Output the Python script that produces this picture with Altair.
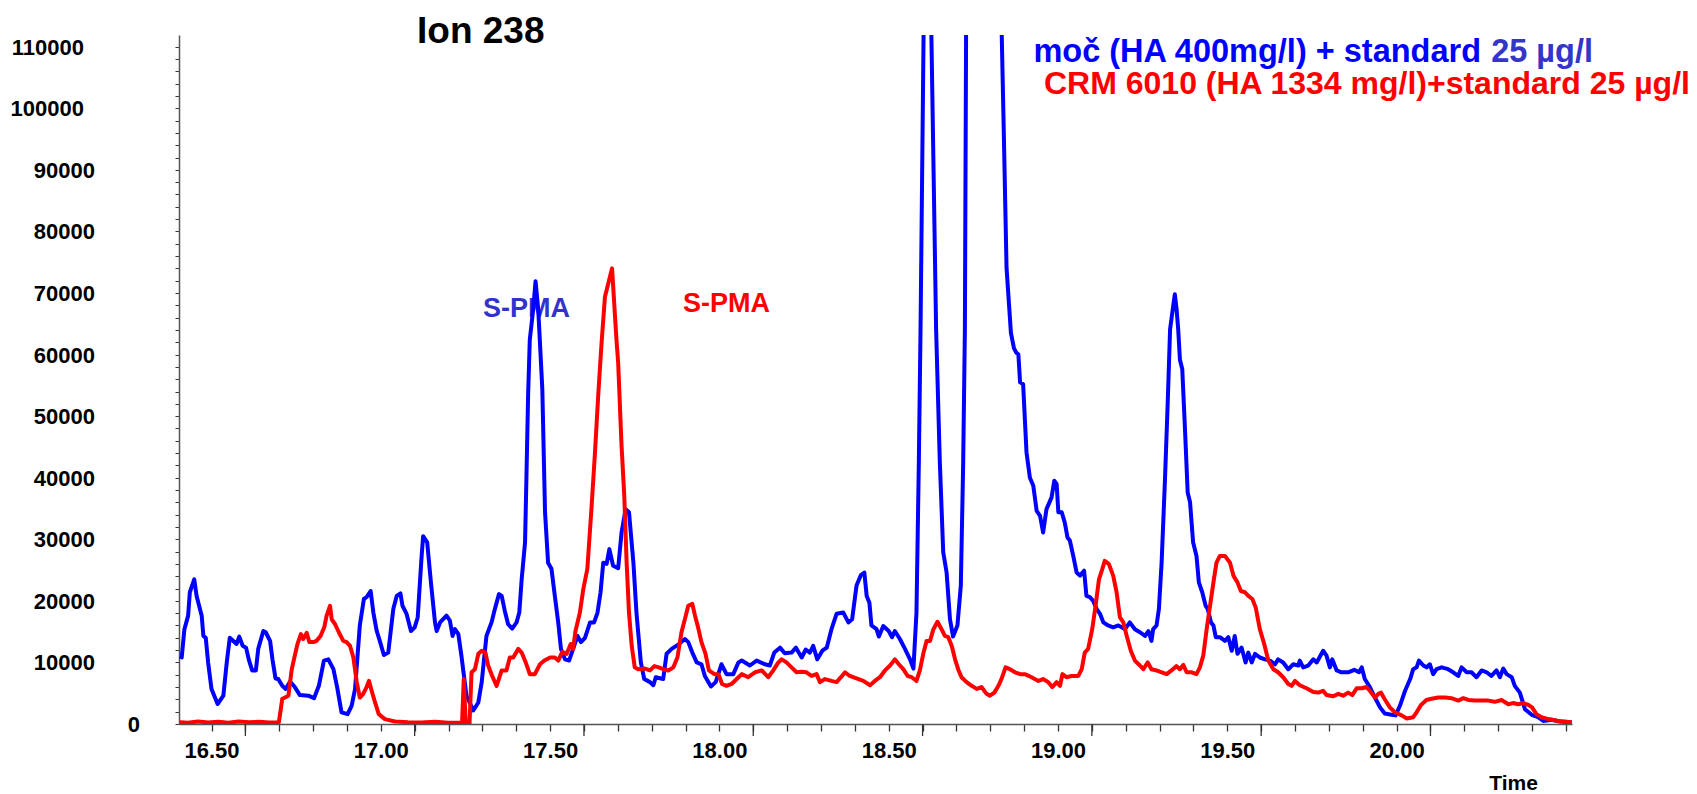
import altair as alt
import pandas as pd

# ---------------- data ----------------
blue_time = [
    16.407, 16.412, 16.420, 16.431, 16.436, 16.449, 16.456, 16.471, 16.476, 16.483,
    16.490, 16.500, 16.518, 16.535, 16.545, 16.554, 16.574, 16.582, 16.592, 16.602,
    16.610, 16.620, 16.631, 16.638, 16.653, 16.660, 16.673, 16.680, 16.689, 16.697,
    16.709, 16.719, 16.732, 16.746, 16.761, 16.786, 16.803, 16.817, 16.832, 16.845,
    16.860, 16.871, 16.884, 16.902, 16.914, 16.924, 16.938, 16.950, 16.958, 16.970,
    16.978, 16.988, 16.997, 17.009, 17.022, 17.037, 17.047, 17.058, 17.064, 17.076,
    17.089, 17.100, 17.109, 17.120, 17.125, 17.137, 17.148, 17.160, 17.165, 17.175,
    17.194, 17.204, 17.212, 17.219, 17.229, 17.238, 17.253, 17.273, 17.288, 17.298,
    17.312, 17.327, 17.337, 17.349, 17.357, 17.366, 17.376, 17.388, 17.401, 17.409,
    17.416, 17.426, 17.430, 17.435, 17.440, 17.450, 17.457, 17.465, 17.477, 17.485,
    17.494, 17.504, 17.514, 17.524, 17.532, 17.544, 17.556, 17.568, 17.581, 17.591,
    17.603, 17.618, 17.630, 17.640, 17.649, 17.657, 17.667, 17.675, 17.686, 17.701,
    17.711, 17.723, 17.733, 17.746, 17.755, 17.768, 17.778, 17.795, 17.805, 17.812,
    17.834, 17.844, 17.859, 17.876, 17.898, 17.908, 17.920, 17.933, 17.947, 17.957,
    17.975, 17.989, 18.006, 18.021, 18.041, 18.056, 18.066, 18.090, 18.110, 18.134,
    18.149, 18.162, 18.179, 18.193, 18.213, 18.226, 18.243, 18.255, 18.267, 18.277,
    18.289, 18.304, 18.317, 18.331, 18.346, 18.366, 18.381, 18.392, 18.405, 18.418,
    18.428, 18.435, 18.443, 18.449, 18.464, 18.471, 18.484, 18.500, 18.510, 18.518,
    18.533, 18.548, 18.563, 18.573, 18.582, 18.589, 18.594, 18.612, 18.640, 18.651,
    18.661, 18.671, 18.681, 18.690, 18.703, 18.713, 18.720, 18.725, 18.735, 18.800,
    18.840, 18.848, 18.861, 18.870, 18.877, 18.883, 18.888, 18.897, 18.907, 18.917,
    18.927, 18.937, 18.947, 18.956, 18.966, 18.981, 18.989, 18.996, 19.001, 19.011,
    19.020, 19.028, 19.035, 19.045, 19.055, 19.065, 19.077, 19.084, 19.094, 19.104,
    19.114, 19.124, 19.134, 19.148, 19.163, 19.178, 19.188, 19.198, 19.212, 19.227,
    19.242, 19.257, 19.267, 19.276, 19.281, 19.291, 19.298, 19.306, 19.316, 19.324,
    19.331, 19.338, 19.345, 19.350, 19.355, 19.360, 19.367, 19.375, 19.383, 19.390,
    19.399, 19.409, 19.416, 19.426, 19.436, 19.442, 19.452, 19.459, 19.466, 19.478,
    19.493, 19.503, 19.513, 19.522, 19.530, 19.542, 19.554, 19.562, 19.572, 19.582,
    19.596, 19.611, 19.626, 19.641, 19.650, 19.665, 19.680, 19.695, 19.710, 19.714,
    19.724, 19.739, 19.754, 19.764, 19.783, 19.793, 19.803, 19.810, 19.823, 19.837,
    19.857, 19.875, 19.889, 19.897, 19.906, 19.921, 19.936, 19.951, 19.965, 19.985,
    19.997, 20.010, 20.025, 20.040, 20.049, 20.059, 20.066, 20.079, 20.089, 20.098,
    20.108, 20.118, 20.133, 20.152, 20.167, 20.182, 20.192, 20.207, 20.221, 20.236,
    20.251, 20.266, 20.280, 20.295, 20.305, 20.315, 20.325, 20.340, 20.349, 20.364,
    20.379, 20.399, 20.418, 20.433, 20.458, 20.482, 20.517,
]
blue_signal = [
    11000, 10800, 15400, 17600, 21400, 23500, 20800, 17600, 14300, 14000,
    10000, 5700, 3250, 4600, 10000, 14000, 13000, 14200, 12700, 12400,
    10500, 8700, 8700, 12200, 15100, 14900, 13500, 10500, 7400, 7300,
    6200, 5700, 6900, 6000, 4700, 4600, 4200, 6200, 10300, 10500,
    8900, 6000, 1900, 1600, 3000, 5700, 16000, 20300, 20600, 21600,
    18100, 15100, 13500, 11200, 11600, 18700, 20800, 21200, 19200, 17900,
    15100, 15700, 17300, 26800, 30500, 29500, 23000, 16500, 15100, 16500,
    17600, 16800, 14300, 15400, 14600, 11100, 4600, 2200, 3500, 6800,
    14300, 16500, 18700, 21100, 20800, 18400, 16200, 15500, 16500, 18100,
    23500, 29500, 39800, 53300, 62400, 67300, 71900, 67300, 54400, 34400,
    26200, 25200, 20800, 16500, 12200, 10500, 10300, 12200, 14300, 13300,
    14000, 16500, 16500, 18100, 21400, 26200, 26000, 28400, 25700, 25300,
    31100, 34900, 34400, 26200, 18100, 10000, 7300, 6800, 6300, 7600,
    7300, 11400, 12200, 12800, 13800, 13300, 11600, 10000, 9700, 7800,
    6100, 6800, 9700, 8100, 8100, 10000, 10300, 9500, 10300, 9700,
    9500, 11600, 12400, 11500, 11600, 12400, 10800, 12100, 11600, 12700,
    10500, 11900, 12400, 15400, 17900, 18100, 16500, 17000, 22500, 24200,
    24600, 20800, 19700, 16000, 15400, 14200, 15900, 15100, 14100, 15100,
    13800, 12200, 10500, 9000, 18100, 42500, 64100, 160000, 64100, 42500,
    27900, 24600, 17000, 14200, 16000, 22500, 42500, 64100, 200000, 200000,
    95800, 74100, 63500, 61000, 60300, 60000, 55500, 55200, 44100, 40000,
    38700, 34600, 33800, 31100, 34900, 36800, 39500, 39000, 34400, 34400,
    32700, 30300, 29800, 27300, 24600, 24100, 24900, 20800, 20600, 20000,
    18700, 17900, 16500, 16000, 15700, 16000, 15700, 15400, 16500, 15400,
    14900, 14300, 15100, 13500, 15400, 16000, 18700, 26200, 39800, 52200,
    64100, 67000, 69800, 67500, 64100, 59200, 57600, 47900, 37600, 36000,
    29500, 27300, 23000, 21400, 19200, 18700, 16500, 16000, 14100, 14100,
    13500, 14100, 11900, 14300, 11400, 12400, 10000, 11600, 10000, 11400,
    10800, 10500, 10300, 9700, 10500, 10000, 8900, 9700, 9500, 10300,
    9200, 9500, 10500, 10000, 11900, 11100, 9200, 10500, 8700, 8400,
    8400, 8800, 8400, 9200, 7300, 6000, 4300, 2700, 1700, 1500,
    1400, 3000, 5400, 7300, 8900, 9200, 10300, 9500, 9200, 9700,
    8100, 8900, 9200, 8900, 8400, 7800, 9200, 8400, 8400, 7600,
    8700, 8400, 7800, 8700, 7600, 9000, 8100, 7600, 6200, 5100,
    2400, 1500, 1100, 500, 700, 400, 300,
]

red_time = [
    16.407, 16.430, 16.460, 16.490, 16.520, 16.550, 16.580, 16.610, 16.640, 16.670,
    16.699, 16.709, 16.717, 16.727, 16.737, 16.746, 16.754, 16.764, 16.771, 16.781,
    16.789, 16.801, 16.810, 16.822, 16.833, 16.840, 16.850, 16.855, 16.865, 16.876,
    16.889, 16.899, 16.909, 16.919, 16.929, 16.938, 16.948, 16.958, 16.965, 16.973,
    16.983, 16.994, 17.012, 17.042, 17.080, 17.120, 17.160, 17.200, 17.240, 17.245,
    17.251, 17.262, 17.268, 17.278, 17.288, 17.298, 17.309, 17.317, 17.329, 17.342,
    17.357, 17.371, 17.381, 17.391, 17.406, 17.416, 17.428, 17.440, 17.455, 17.470,
    17.483, 17.500, 17.514, 17.524, 17.536, 17.549, 17.561, 17.568, 17.575, 17.588,
    17.598, 17.610, 17.622, 17.632, 17.642, 17.652, 17.662, 17.683, 17.696, 17.701,
    17.711, 17.719, 17.726, 17.733, 17.741, 17.750, 17.760, 17.780, 17.795, 17.808,
    17.821, 17.834, 17.849, 17.864, 17.876, 17.888, 17.898, 17.908, 17.920, 17.928,
    17.937, 17.947, 17.959, 17.969, 17.985, 17.997, 18.008, 18.021, 18.036, 18.051,
    18.066, 18.085, 18.105, 18.125, 18.144, 18.159, 18.174, 18.184, 18.198, 18.213,
    18.228, 18.243, 18.257, 18.272, 18.287, 18.297, 18.312, 18.331, 18.346, 18.359,
    18.371, 18.385, 18.405, 18.425, 18.445, 18.459, 18.474, 18.489, 18.504, 18.518,
    18.530, 18.543, 18.556, 18.568, 18.582, 18.592, 18.602, 18.612, 18.622, 18.632,
    18.644, 18.656, 18.666, 18.676, 18.686, 18.696, 18.705, 18.715, 18.730, 18.745,
    18.760, 18.774, 18.789, 18.799, 18.812, 18.824, 18.833, 18.845, 18.858, 18.873,
    18.888, 18.902, 18.922, 18.942, 18.956, 18.971, 18.983, 18.996, 19.006, 19.013,
    19.025, 19.040, 19.060, 19.070, 19.079, 19.089, 19.101, 19.111, 19.121, 19.131,
    19.138, 19.150, 19.163, 19.173, 19.183, 19.193, 19.203, 19.215, 19.227, 19.242,
    19.252, 19.265, 19.276, 19.291, 19.306, 19.321, 19.335, 19.350, 19.360, 19.370,
    19.380, 19.395, 19.409, 19.419, 19.429, 19.439, 19.449, 19.459, 19.468, 19.478,
    19.493, 19.508, 19.518, 19.530, 19.540, 19.552, 19.562, 19.574, 19.584, 19.596,
    19.609, 19.621, 19.636, 19.650, 19.665, 19.680, 19.690, 19.700, 19.714, 19.734,
    19.754, 19.769, 19.783, 19.793, 19.813, 19.828, 19.842, 19.857, 19.869, 19.882,
    19.897, 19.911, 19.921, 19.936, 19.946, 19.954, 19.964, 19.980, 19.995, 20.015,
    20.030, 20.049, 20.059, 20.072, 20.088, 20.103, 20.123, 20.143, 20.162, 20.182,
    20.197, 20.212, 20.231, 20.251, 20.271, 20.290, 20.310, 20.330, 20.344, 20.359,
    20.374, 20.389, 20.400, 20.413, 20.428, 20.448, 20.477, 20.517,
]
red_signal = [
    300, 200, 400, 250, 350, 200, 400, 300, 350, 250,
    300, 4100, 4300, 4600, 8900, 11100, 13000, 14600, 13800, 14800,
    13300, 13300, 13500, 14300, 15700, 17600, 19200, 17000, 16200, 14900,
    13500, 13300, 12700, 10800, 6800, 4300, 4900, 6000, 7000, 5400,
    3500, 1600, 800, 400, 300, 250, 350, 200, 200, 7300,
    0, 0, 8400, 8900, 11400, 11900, 11600, 9500, 7800, 6200,
    8700, 8700, 10800, 10800, 12200, 11600, 10000, 8100, 8100, 9700,
    10300, 10800, 10800, 10300, 11700, 11400, 13000, 12200, 15100, 18100,
    21900, 25200, 34900, 43600, 53300, 61900, 69400, 74000, 62400, 58700,
    45200, 37100, 26200, 18100, 12700, 9200, 8900, 9000, 8700, 9400,
    9200, 8900, 8700, 9200, 10800, 14900, 17000, 19200, 19500, 17600,
    15700, 13300, 11400, 8700, 8100, 8100, 6500, 6200, 6500, 7300,
    8100, 7600, 8400, 8700, 7600, 8700, 10000, 10500, 10000, 9200,
    8400, 8500, 8400, 7800, 8100, 6800, 7300, 7000, 6800, 7600,
    8400, 7800, 7400, 7000, 6300, 7000, 7600, 8700, 9500, 10500,
    9700, 8900, 7800, 7600, 7000, 8700, 11400, 13500, 13500, 15400,
    16600, 15400, 14300, 14100, 12700, 10500, 8900, 7600, 6800, 6200,
    5700, 6000, 4900, 4600, 5100, 6200, 7300, 9200, 8900, 8400,
    8100, 8100, 7600, 7000, 7300, 6800, 6000, 6800, 6200, 8100,
    7600, 7800, 7800, 8900, 11600, 12200, 15400, 19200, 23500, 25200,
    26500, 26000, 24100, 21400, 17300, 16500, 14300, 11900, 10300, 9500,
    8900, 10000, 8900, 8700, 8400, 8100, 8700, 9400, 8900, 9600,
    8400, 8400, 8100, 9200, 11100, 15400, 19200, 23000, 26200, 27300,
    27300, 26200, 24100, 23000, 21600, 21400, 20800, 20300, 18900, 15400,
    13000, 10300, 8900, 8400, 7600, 6500, 6200, 7000, 6300, 5800,
    5200, 5100, 5400, 4700, 4500, 4900, 4600, 5100, 4700, 5800,
    5800, 6000, 5400, 4300, 4900, 5100, 4100, 2700, 1900, 1400,
    900, 1100, 1900, 3100, 3900, 4100, 4300, 4300, 4200, 3800,
    4200, 3900, 3800, 3800, 3800, 3600, 3900, 3200, 3400, 3200,
    3400, 3100, 2700, 1600, 1100, 800, 500, 300,
]

x_tick_values = [round(16.5 + 0.1 * i, 1) for i in range(41)]
long_tick_values = [round(16.6 + 0.5 * i, 1) for i in range(8)]
y_tick_values = list(range(0, 112000, 2000))
y_labels_6 = [100000, 110000]
y_labels_5 = [10000, 20000, 30000, 40000, 50000, 60000, 70000, 80000, 90000]
y_labels_1 = [0]

title_text = "Ion 238"
blue_legend_head = "moč (HA 400mg/l) + standard"
blue_legend_tail = "25 µg/l"
red_legend = "CRM 6010 (HA 1334 mg/l)+standard 25 µg/l"
peak_label = "S-PMA"

assert len(blue_time) == len(blue_signal)
assert len(red_time) == len(red_signal)

# ---------------- chart ----------------
W, H = 1393, 689
FONT = "Liberation Sans"

x_scale = alt.Scale(domain=[16.404, 20.518], nice=False, zero=False)
y_scale = alt.Scale(domain=[0, 111900], nice=False, zero=True)

x_label_expr = ("abs(round(datum.value * 10) % 5) < 0.5 && datum.value < 20.25 "
                "? format(datum.value, '.2f') : ''")

x_axis = alt.Axis(
    values=x_tick_values, tickSize=7, tickWidth=1.3, tickColor="#333",
    domainColor="#555", domainWidth=1.5,
    labelExpr=x_label_expr, labelFont=FONT, labelFontSize=22, labelFontWeight="bold",
    labelColor="black", labelPadding=9, labelOverlap=False, labelFlush=False,
    grid=False, title="Time", titleFont=FONT, titleFontSize=21, titleFontWeight="bold",
    titleColor="black", titleX=1334, titleY=59, titleAlign="center", titleBaseline="middle",
)
y_axis = alt.Axis(
    values=y_tick_values, tickSize=4, tickWidth=1, tickColor="#333",
    domainColor="#555", domainWidth=1.5, labels=False, grid=False, title=None,
)

blue_df = pd.DataFrame({"time": blue_time, "signal": blue_signal})
red_df = pd.DataFrame({"time": red_time, "signal": red_signal})


def trace(df, color):
    return alt.Chart(df).mark_line(color=color, strokeWidth=4, clip=True, strokeJoin="round").encode(
        x=alt.X("time:Q", scale=x_scale, axis=x_axis),
        y=alt.Y("signal:Q", scale=y_scale, axis=y_axis),
    )


long_ticks = alt.Chart(pd.DataFrame({"time": long_tick_values})).mark_rule(
    color="#333", strokeWidth=1.3
).encode(
    x=alt.X("time:Q", scale=x_scale, axis=x_axis),
    y=alt.value(H),
    y2=alt.value(H + 12),
)


def y_labels(values, right_x):
    return alt.Chart(pd.DataFrame({"signal": values})).transform_calculate(
        txt="format(datum.signal, 'd')"
    ).mark_text(
        align="right", baseline="middle", font=FONT, fontSize=22, fontWeight="bold",
        color="black", dy=1,
    ).encode(
        x=alt.value(right_x),
        y=alt.Y("signal:Q", scale=y_scale, axis=y_axis),
        text="txt:N",
    )


def label(text, x, y, size, color, align="left"):
    return alt.Chart(pd.DataFrame({"t": [text]})).mark_text(
        align=align, baseline="alphabetic", font=FONT, fontSize=size,
        fontWeight="bold", color=color,
    ).encode(x=alt.value(x), y=alt.value(y), text="t:N")


texts = [
    label(title_text, 238, 8, 37, "black"),
    label(blue_legend_head, 1302, 26.5, 32.5, "#0000ff", align="right"),
    label(blue_legend_tail, 1414, 26.5, 32.5, "#3535c8", align="right"),
    label(red_legend, 865, 58.5, 32, "#ff0000"),
    label(peak_label, 304, 281.7, 27, "#3333cc"),
    label(peak_label, 504, 276.7, 27, "#ff0000"),
]

chart = alt.layer(
    y_labels(y_labels_6, -95),
    y_labels(y_labels_5, -84),
    y_labels(y_labels_1, -39),
    *texts, trace(blue_df, "#0000ff"), trace(red_df, "#ff0000"), long_ticks
).properties(
    width=W, height=H,
    padding={"left": 171, "top": 27, "right": 117, "bottom": 70},
    autosize=alt.AutoSizeParams(type="none"),
    background="white",
).configure_view(strokeWidth=0)

chart.save("out.html", embed_options={"renderer": "svg", "actions": False})
